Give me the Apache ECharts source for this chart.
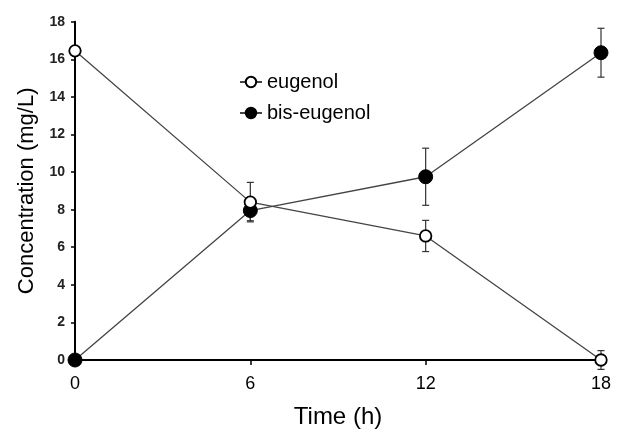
<!DOCTYPE html>
<html><head><meta charset="utf-8">
<script src="https://cdn.jsdelivr.net/npm/echarts@6/dist/echarts.min.js"></script>
<style>html,body{margin:0;padding:0;background:#fff}#c{width:617px;height:434px}</style>
</head><body><div id="c"></div>
<script>
const times = [0, 6, 12, 18];
const eugenol = [16.45, 8.4, 6.6, 0.0];
const eugenolErr = [0, 1.05, 0.83, 0.5];
const bisEugenol = [0.0, 7.95, 9.75, 16.35];
const bisEugenolErr = [0, 0.54, 1.52, 1.3];
const xTicks = [0, 6, 12, 18];
const yTicks = [0, 2, 4, 6, 8, 10, 12, 14, 16, 18];

function errData(vals, errs) {
  return times.map((t, i) => [t, vals[i] - errs[i], vals[i] + errs[i], errs[i]]);
}
function renderErr(params, api) {
  if (api.value(3) === 0) return null;
  const x = api.value(0);
  const lo = api.coord([x, api.value(1)]);
  const hi = api.coord([x, api.value(2)]);
  const cw = 3.5;
  const st = { stroke: '#333', lineWidth: 1.2 };
  return { type: 'group', children: [
    { type: 'line', shape: { x1: lo[0], y1: lo[1], x2: hi[0], y2: hi[1] }, style: st },
    { type: 'line', shape: { x1: hi[0]-cw, y1: hi[1], x2: hi[0]+cw, y2: hi[1] }, style: st },
    { type: 'line', shape: { x1: lo[0]-cw, y1: lo[1], x2: lo[0]+cw, y2: lo[1] }, style: st }
  ]};
}
const font = 'Liberation Sans, Arial, sans-serif';
const chart = echarts.init(document.getElementById('c'), null, { renderer: 'canvas' });
chart.setOption({
  animation: false,
  backgroundColor: '#fff',
  grid: { left: 75, right: 16, top: 21.7, bottom: 58 },
  legend: {
    orient: 'vertical', left: 234, top: 67, itemGap: 11, itemWidth: 22, itemHeight: 13,
    textStyle: { fontFamily: font, fontSize: 20, color: '#000' },
    data: ['eugenol', 'bis-eugenol']
  },
  xAxis: {
    type: 'value', min: 0, max: 18, interval: 6,
    name: 'Time (h)', nameLocation: 'middle', nameGap: 45,
    nameTextStyle: { fontFamily: font, fontSize: 24, color: '#000' },
    axisLine: { lineStyle: { color: '#000', width: 2 } },
    axisTick: { inside: false, length: 5, lineStyle: { color: '#000', width: 1.5 } },
    axisLabel: { fontFamily: font, fontSize: 18, color: '#000', margin: 15,
      formatter: v => xTicks.includes(v) ? String(v) : '' },
    splitLine: { show: false }
  },
  yAxis: {
    type: 'value', min: 0, max: 18, interval: 2,
    name: 'Concentration (mg/L)', nameLocation: 'middle', nameGap: 37,
    nameTextStyle: { fontFamily: font, fontSize: 22, color: '#000' },
    axisLine: { show: true, lineStyle: { color: '#000', width: 2 } },
    axisTick: { show: true, inside: false, length: 4, lineStyle: { color: '#000', width: 1.5 } },
    axisLabel: { fontFamily: font, fontSize: 14, fontWeight: 'bold', color: '#222', margin: 10,
      formatter: v => yTicks.includes(v) ? String(v) : '' },
    splitLine: { show: false }
  },
  series: [
    { type: 'custom', name: 'errE', renderItem: renderErr, data: errData(eugenol, eugenolErr), z: 1, silent: true,
      encode: { x: 0, y: [1, 2] } },
    { type: 'custom', name: 'errB', renderItem: renderErr, data: errData(bisEugenol, bisEugenolErr), z: 1, silent: true,
      encode: { x: 0, y: [1, 2] } },
    { type: 'line', name: 'eugenol', data: times.map((t, i) => [t, eugenol[i]]), z: 3,
      symbol: 'circle', symbolSize: 11.5,
      lineStyle: { color: '#444', width: 1.3 },
      itemStyle: { color: '#fff', borderColor: '#000', borderWidth: 1.8 } },
    { type: 'line', name: 'bis-eugenol', data: times.map((t, i) => [t, bisEugenol[i]]), z: 2,
      symbol: 'circle', symbolSize: 14,
      lineStyle: { color: '#444', width: 1.3 },
      itemStyle: { color: '#000', borderColor: '#000', borderWidth: 1 } }
  ]
});
</script></body></html>
